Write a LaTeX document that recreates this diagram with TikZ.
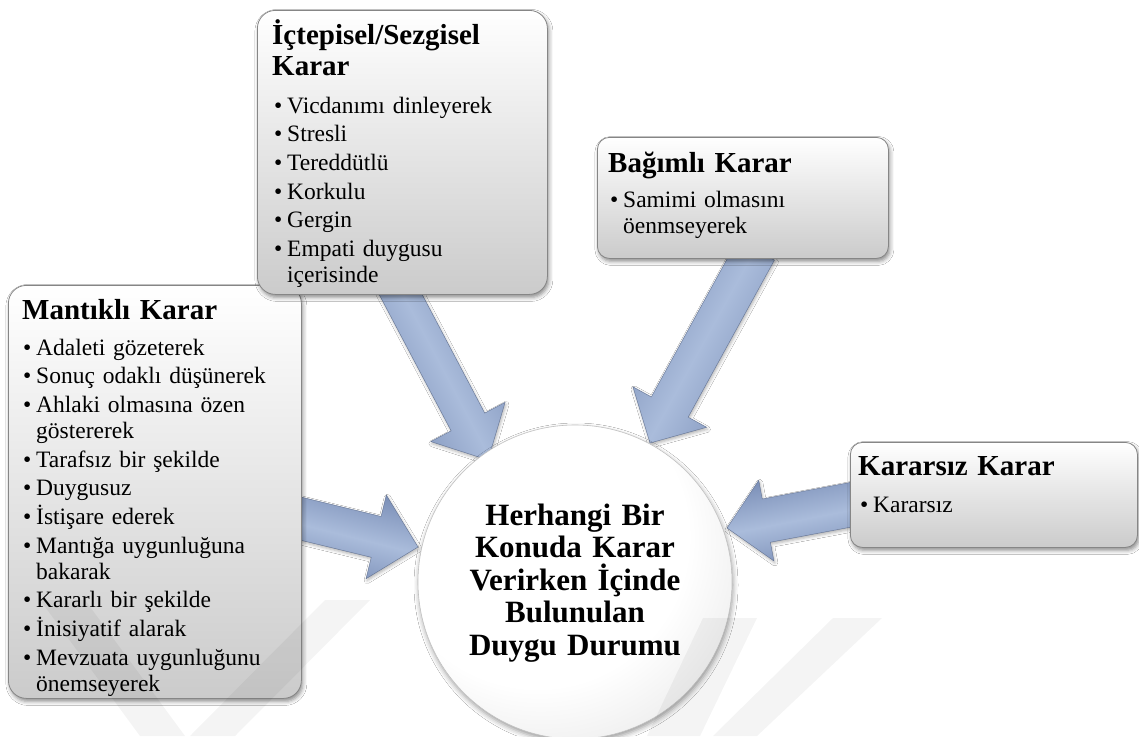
\documentclass[tikz,border=0pt]{standalone}
\usepackage{fontspec}
\setmainfont{Liberation Serif}
\usetikzlibrary{calc,shadows.blur}

\definecolor{boxline}{HTML}{868686}
\definecolor{boxbot}{HTML}{CBCBCB}
\definecolor{arrowdark}{HTML}{7C90B8}
\definecolor{arrowlight}{HTML}{AABCDB}
\definecolor{ballrim}{HTML}{C2C2C2}

% off-centre radial shading for the central disc
\pgfdeclareradialshading{ballshade}{\pgfpoint{-10bp}{12bp}}{%
  color(0bp)=(white); color(24bp)=(white); color(50bp)=(ballrim!75); color(60bp)=(ballrim)}

% one bullet item with a hanging indent
\newcommand\bul[1]{\hangindent=13pt\hangafter=1\makebox[13pt][l]{\textbullet}#1\par}
\newcommand\blist{\setlength{\parskip}{2.7pt}}

% block arrow: tail, tip, half shaft width, half head width, head length, shading angle
\newcommand\bluearrow[6]{%
  \path ($(#2)!#5!(#1)$) coordinate (#2-hb);
  \shade[arrowbody, shading angle=#6]
    ($(#1)!#3!90:(#2)$) -- ($(#2-hb)!#3!90:(#2)$) -- ($(#2-hb)!#4!90:(#2)$)
    -- (#2) -- ($(#2-hb)!#4!-90:(#2)$) -- ($(#2-hb)!#3!-90:(#2)$)
    -- ($(#1)!#3!-90:(#2)$) -- cycle;}

\tikzset{
  panel/.style={draw=boxline, line width=0.8pt, top color=white, bottom color=boxbot,
    rounded corners=#1, inner sep=0pt, anchor=north west,
    blur shadow={shadow xshift=1.5pt, shadow yshift=-3pt, shadow blur radius=4pt, shadow opacity=45}},
  panel/.default=16pt,
  head/.style={anchor=base west, inner sep=0pt, text width=285pt,
    font=\fontsize{29}{31}\selectfont\bfseries},
  body/.style={anchor=base west, inner sep=0pt, text width=270pt,
    font=\fontsize{23.5}{26}\selectfont},
  arrowbody/.style={top color=arrowdark, bottom color=arrowdark, middle color=arrowlight,
    draw=arrowdark!80!black, line width=0.4pt, line join=miter,
    blur shadow={shadow xshift=1pt, shadow yshift=-2pt, shadow blur radius=3pt, shadow opacity=30}},
  ballnode/.style={circle, minimum size=314pt, inner sep=0pt, shade, shading=ballshade,
    draw=ballrim, line width=0.6pt,
    blur shadow={shadow xshift=1pt, shadow yshift=-3pt, shadow blur radius=5pt, shadow opacity=40}},
  ctext/.style={anchor=base, inner sep=0pt, text width=300pt, align=center,
    font=\fontsize{31}{32.5}\selectfont\bfseries},
  stripe/.style={fill=black, fill opacity=0.045},
}

\begin{document}
\begin{tikzpicture}[x=1pt, y=-1pt]
\useasboundingbox (0,0) rectangle (1139,736);
\fill[white] (0,0) rectangle (1139,736);

% arrow ends
\coordinate (a1) at (393,280);  \coordinate (t1) at (488,460);
\coordinate (a2) at (756,250);  \coordinate (t2) at (650,443);
\coordinate (a3) at (290,516);  \coordinate (t3) at (418,547);
\coordinate (a4) at (860,503);  \coordinate (t4) at (727,528);

% arrows towards the centre
\bluearrow{a1}{t1}{19pt}{42pt}{43pt}{-62}
\bluearrow{a2}{t2}{21pt}{42pt}{41pt}{-119}
\bluearrow{a3}{t3}{21pt}{43pt}{43pt}{-14}
\bluearrow{a4}{t4}{22pt}{41pt}{40pt}{-169}

% central disc
\node[ballnode] (c) at (575,582) {};
\node[ctext] (ct) at (575,525) {Herhangi Bir\\Konuda Karar\\Verirken İçinde\\Bulunulan\\Duygu Durumu};

% Mantıklı Karar
\node[panel=18pt, minimum width=293pt, minimum height=413pt] (mbox) at (8,285) {};
\node[head] (mh) at (22,319) {Mantıklı Karar};
\node[body] (mb) at (23,355) {\blist
  \bul{Adaleti gözeterek}
  \bul{Sonuç odaklı düşünerek}
  \bul{Ahlaki olmasına özen\newline göstererek}
  \bul{Tarafsız bir şekilde}
  \bul{Duygusuz}
  \bul{İstişare ederek}
  \bul{Mantığa uygunluğuna\newline bakarak}
  \bul{Kararlı bir şekilde}
  \bul{İnisiyatif alarak}
  \bul{Mevzuata uygunluğunu\newline önemseyerek}};

% İçtepisel/Sezgisel Karar
\node[panel=18pt, minimum width=290pt, minimum height=284pt] (ibox) at (257,10) {};
\node[head] (ih) at (272,44) {İçtepisel/Sezgisel\newline Karar};
\node[body] (ib) at (274,113) {\blist
  \bul{Vicdanımı dinleyerek}
  \bul{Stresli}
  \bul{Tereddütlü}
  \bul{Korkulu}
  \bul{Gergin}
  \bul{Empati duygusu\newline içerisinde}};

% Bağımlı Karar
\node[panel=12pt, minimum width=291pt, minimum height=121pt] (bbox) at (597,137) {};
\node[head] (bh) at (608,172) {Bağımlı Karar};
\node[body] (bb) at (610,207) {\blist
  \bul{Samimi olmasını\newline öenmseyerek}};

% Kararsız Karar
\node[panel=12pt, minimum width=287pt, minimum height=105pt] (kbox) at (850,442) {};
\node[head] (kh) at (858,475) {Kararsız Karar};
\node[body] (kb) at (860,512) {\blist
  \bul{Kararsız}};

% faint diagonal stripes along the bottom edge
\fill[stripe] (40,600) -- (85,600) -- (185,736) -- (140,736) -- cycle;
\fill[stripe] (190,736) -- (235,736) -- (370,600) -- (325,600) -- cycle;
\fill[stripe] (647,736) -- (700,736) -- (757,618) -- (703,618) -- cycle;
\fill[stripe] (713,736) -- (757,736) -- (882,618) -- (833,618) -- cycle;
\end{tikzpicture}
\end{document}
